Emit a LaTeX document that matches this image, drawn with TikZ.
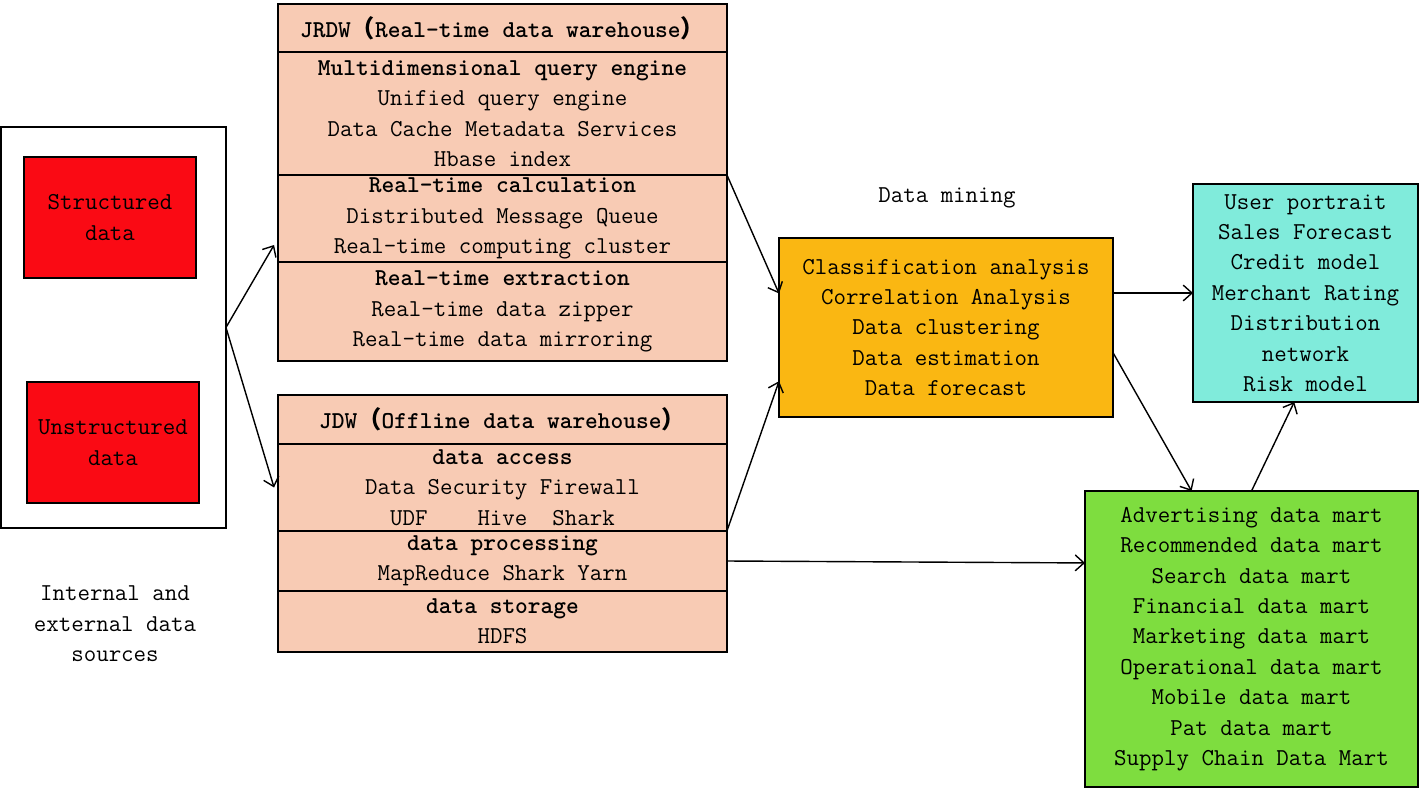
\documentclass[tikz,border=0pt]{standalone}
\usepackage{fontspec}
\newfontfamily\cjk{Noto Sans CJK SC}
\usetikzlibrary{arrows.meta}
\usetikzlibrary{calc}

\definecolor{peach}{RGB}{248,203,180}
\definecolor{srcred}{RGB}{250,10,20}
\definecolor{mineorange}{RGB}{250,183,18}
\definecolor{appcyan}{RGB}{128,235,219}
\definecolor{martgreen}{RGB}{126,221,63}

\tikzset{
  box/.style={draw, line width=0.8pt, inner sep=0pt, outer sep=0pt, align=center},
  sect/.style={box, fill=peach, minimum width=8.98cm},
  arr/.style={-{Straight Barb[length=5pt,width=9pt]}, line width=0.8pt},
}

\begin{document}
\begin{tikzpicture}[x=0.02cm, y=-0.02cm]
    \ttfamily\fontsize{13.8}{17.3}\selectfont
    \useasboundingbox (0,0) rectangle (1421,788);

    % sources
    \node [box, minimum width=4.5cm, minimum height=8.02cm] (src) at (113.5,327.5) {};
    \node [box, fill=srcred, minimum width=3.44cm, minimum height=2.42cm] (struct) at (110,217.5) {Structured\\data};
    \node [box, fill=srcred, minimum width=3.44cm, minimum height=2.42cm] (unstruct) at (113,442.5) {Unstructured\\data};
    \node [align=center] (srccap) at (115,624) {Internal and\\external data\\sources};

    % JRDW
    \node [sect, minimum height=0.96cm] (jrtitle) at (502.5,28) {\textbf{JRDW{\cjk（}Real-time data warehouse{\cjk）}}};
    \node [sect, minimum height=2.46cm] (jrquery) at (502.5,113.5) {\textbf{Multidimensional query engine}\\Unified query engine\\Data Cache Metadata Services\\Hbase index};
    \node [sect, minimum height=1.74cm] (jrcalc) at (502.5,218.5) {\textbf{Real-time calculation}\\Distributed Message Queue\\Real-time computing cluster};
    \node [sect, minimum height=1.98cm] (jrext) at (502.5,311.5) {\textbf{Real-time extraction}\\Real-time data zipper\\Real-time data mirroring};

    % JDW
    \node [sect, minimum height=0.98cm] (jdtitle) at (502.5,419.5) {\textbf{JDW{\cjk（}Offline data warehouse{\cjk）}}};
    \node [sect, minimum height=1.74cm] (jdacc) at (502.5,487.5) {\textbf{data access}\\Data Security Firewall\\UDF\ \ \ \ Hive\ \ Shark};
    \node [sect, minimum height=1.2cm] (jdproc) at (502.5,561) {\textbf{data processing}\\MapReduce Shark Yarn};
    \node [sect, minimum height=1.22cm] (jdstore) at (502.5,621.5) {\textbf{data storage}\\HDFS};

    % mining and applications
    \node (minecap) at (947,198) {Data mining};
    \node [box, fill=mineorange, minimum width=6.68cm, minimum height=3.58cm] (mine) at (946,327.5) {Classification analysis\\Correlation Analysis\\Data clustering\\Data estimation\\Data forecast};
    \node [box, fill=appcyan, minimum width=4.5cm, minimum height=4.36cm] (user) at (1305.5,293) {User portrait\\Sales Forecast\\Credit model\\Merchant Rating\\Distribution\\network\\Risk model};
    \node [box, fill=martgreen, minimum width=6.66cm, minimum height=5.92cm] (green) at (1251.5,639) {Advertising data mart\\Recommended data mart\\Search data mart\\Financial data mart\\Marketing data mart\\Operational data mart\\Mobile data mart\\Pat data mart\\Supply Chain Data Mart};

    % arrows
    \draw [arr] (src.east) -- ($(jrcalc.south west)+(-4,-17)$);
    \draw [arr] (src.east) -- ($(jdacc.west)+(-4,0)$);
    \draw [arr] (jrquery.south east) -- ($(mine.north west)!0.31!(mine.south west)$);
    \draw [arr] (jdacc.south east) -- ($(mine.north west)!0.8!(mine.south west)$);
    \draw [arr] (mine.east |- user.west) -- (user.west);
    \draw [arr] ($(mine.north east)!0.64!(mine.south east)$) -- ($(green.north west)!0.32!(green.north east)$);
    \draw [arr] (jdproc.east) -- ($(green.north west)!0.243!(green.south west)$);
    \draw [arr] (green.north) -- ($(user.south west)!0.45!(user.south east)$);
\end{tikzpicture}
\end{document}
